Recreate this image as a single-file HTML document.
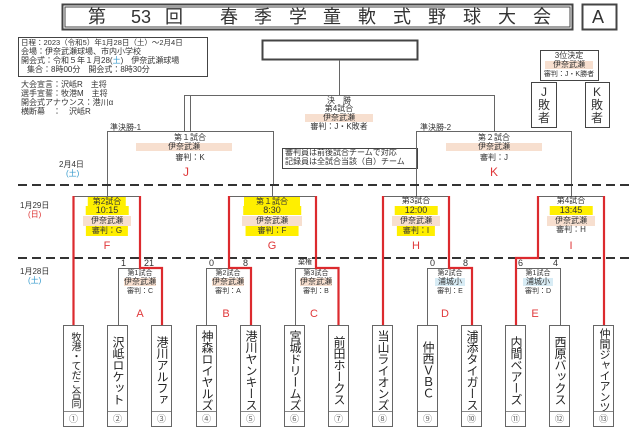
<!DOCTYPE html>
<html><head><meta charset="utf-8"><style>
body{margin:0;width:640px;height:436px;background:#fff;position:relative;overflow:hidden;font-family:"Liberation Sans","Noto Sans CJK JP",sans-serif;color:#333}
.t{position:absolute;white-space:nowrap;line-height:1}
.c{transform:translateX(-50%)}
.s{font-size:8px}
.team{position:absolute;top:325px;width:21px;height:102px;border:1px solid #666;box-sizing:border-box;background:#fff}
.team .n{position:absolute;top:2px;left:0;width:20px;height:84px;writing-mode:vertical-rl;text-orientation:upright;font-size:12px;line-height:20px;text-align:center;color:#222;letter-spacing:-0.5px}
.team .no{position:absolute;bottom:0;left:0;width:19px;height:14px;border-top:1px solid #888;font-size:9px;text-align:center;line-height:14px;color:#666}
.red{color:#e0383a}
.y{background:#ffef00}
.p{background:#f7dfcf}
.b{background:#d8ecf5}
</style></head><body>
<svg width="640" height="436" style="position:absolute;left:0;top:0">
<g fill="none" stroke="#444">
<rect x="62.5" y="4.5" width="510" height="25" stroke-width="2"/>
<rect x="65" y="7" width="505" height="20" stroke-width="1"/>
<rect x="582.5" y="4.5" width="34" height="25" stroke-width="2"/>
<rect x="18.5" y="37.5" width="189" height="39"/>
<rect x="262.5" y="40.5" width="155" height="19" stroke-width="2"/>
<rect x="540.5" y="50.5" width="58" height="30"/>
<rect x="531.5" y="82.5" width="25" height="45"/>
<rect x="585.5" y="82.5" width="24" height="45"/>
<rect x="282.5" y="148.5" width="135" height="20"/>
</g>
<g fill="none" stroke="#666" stroke-width="1">
<path d="M339.5 60V95.5M184.5 131V95.5H494.5V131"/>
<path d="M107.5 185V131.5H273.5V185M190.5 131V95"/>
<path d="M416.5 185V131.5H571.5V185"/>
<path d="M107.5 185V196M272.5 185V196M416.5 185V196M571.5 185V196"/>
<path d="M73 196.5H140M229 196.5H316M383 196.5H449M538 196.5H604"/>
<path d="M118.5 325V268.5H162M206.5 325V268.5H250M295.5 325V268.5H338M427.5 325V268.5H472M516 268.5H560.5V325"/>
</g>
<g stroke="#333" stroke-width="2" stroke-dasharray="9,5">
<path d="M18 185H630M18 258H630"/>
</g>
<g fill="none" stroke="#dc2a2e" stroke-width="2.2">
<path d="M73.5 196V325M140 196V268H162V325"/>
<path d="M229 196V268H251V325M316 196V268H338.5V325"/>
<path d="M383 196V325M449 196V268H472V325"/>
<path d="M538 196V258H516V325M604 196V325"/>
</g>
</svg>

<div class="t" style="left:88px;top:8px;font-size:18px;color:#333">第</div>
<div class="t" style="left:131px;top:8px;font-size:18px">53</div>
<div class="t" style="left:165px;top:8px;font-size:18px">回</div>
<div class="t" style="left:220px;top:8px;font-size:18px">春</div>
<div class="t" style="left:254px;top:8px;font-size:18px">季</div>
<div class="t" style="left:289px;top:8px;font-size:18px">学</div>
<div class="t" style="left:323px;top:8px;font-size:18px">童</div>
<div class="t" style="left:358px;top:8px;font-size:18px">軟</div>
<div class="t" style="left:393px;top:8px;font-size:18px">式</div>
<div class="t" style="left:428px;top:8px;font-size:18px">野</div>
<div class="t" style="left:463px;top:8px;font-size:18px">球</div>
<div class="t" style="left:498px;top:8px;font-size:18px">大</div>
<div class="t" style="left:533px;top:8px;font-size:18px">会</div>
<div class="t" style="left:592px;top:8px;font-size:18px">A</div>

<div class="t s" style="left:21px;top:39px;font-size:7.5px">日程：2023（令和5）年1月28日（土）～2月4日</div>
<div class="t s" style="left:21px;top:48px">会場：伊奈武瀬球場、市内小学校</div>
<div class="t s" style="left:21px;top:57px">開会式：令和５年１月28(<span style="color:#39c">土</span>)　伊奈武瀬球場</div>
<div class="t s" style="left:27px;top:66px">集合：8時00分　開会式：8時30分</div>
<div class="t s" style="left:21px;top:81px">大会宣言：沢岻R　主将</div>
<div class="t s" style="left:21px;top:90px">選手宣誓：牧港M　主将</div>
<div class="t s" style="left:21px;top:99px">開会式アナウンス：港川α</div>
<div class="t s" style="left:21px;top:108px">横断幕　：　沢岻R</div>

<div class="t s c" style="left:569px;top:52px">3位決定</div>
<div class="t s c p" style="left:569px;top:61px;padding:0 8px">伊奈武瀬</div>
<div class="t c" style="left:569px;top:71px;font-size:7px">審判：J・K勝者</div>
<div class="t c" style="left:544px;top:86px;font-size:12px;width:14px;text-align:center;line-height:13px;white-space:normal">J<br>敗<br>者</div>
<div class="t c" style="left:597px;top:86px;font-size:12px;width:14px;text-align:center;line-height:13px;white-space:normal">K<br>敗<br>者</div>

<div class="t s c" style="left:339px;top:97px">決　勝</div>
<div class="t s c" style="left:339px;top:105px">第4試合</div>
<div class="t s c p" style="left:339px;top:114px;padding:0 18px">伊奈武瀬</div>
<div class="t s c" style="left:339px;top:123px">審判：J・K敗者</div>
<div class="t s" style="left:285px;top:149px">審判員は前後試合チームで対応</div>
<div class="t s" style="left:285px;top:158px">記録員は全試合当該（自）チーム</div>

<div class="t s" style="left:110px;top:124px">準決勝-1</div>
<div class="t s c" style="left:190px;top:134px">第１試合</div>
<div class="t s c p" style="left:184px;top:143px;padding:0 32px">伊奈武瀬</div>
<div class="t s c" style="left:190px;top:154px">審判：K</div>
<div class="t c red" style="left:186px;top:166px;font-size:12px">J</div>
<div class="t s" style="left:420px;top:124px">準決勝-2</div>
<div class="t s c" style="left:494px;top:134px">第２試合</div>
<div class="t s c p" style="left:494px;top:143px;padding:0 32px">伊奈武瀬</div>
<div class="t s c" style="left:494px;top:154px">審判：J</div>
<div class="t c red" style="left:494px;top:166px;font-size:12px">K</div>

<div class="t s" style="left:59px;top:161px">2月4日</div>
<div class="t s" style="left:66px;top:170px;color:#39c">(土)</div>
<div class="t s" style="left:20px;top:202px">1月29日</div>
<div class="t s" style="left:28px;top:211px;color:#d33">(日)</div>
<div class="t s" style="left:20px;top:268px">1月28日</div>
<div class="t s" style="left:28px;top:277px;color:#39c">(土)</div>

<!-- 1/29 games -->
<div class="t s c y" style="left:107px;top:197px;padding:1px 5px">第2試合</div>
<div class="t c y" style="left:107px;top:206px;font-size:9px;padding:0 10px">10:15</div>
<div class="t s c p" style="left:107px;top:216px;padding:1px 8px">伊奈武瀬</div>
<div class="t s c y" style="left:107px;top:226px;padding:1px 6px">審判：G</div>
<div class="t c red" style="left:107px;top:241px;font-size:11px">F</div>

<div class="t s c y" style="left:272px;top:197px;padding:1px 12px">第１試合</div>
<div class="t c y" style="left:272px;top:206px;font-size:9px;padding:0 20px">8:30</div>
<div class="t s c p" style="left:272px;top:216px;padding:1px 14px">伊奈武瀬</div>
<div class="t s c y" style="left:272px;top:226px;padding:1px 12px">審判：F</div>
<div class="t c red" style="left:272px;top:241px;font-size:11px">G</div>

<div class="t s c" style="left:416px;top:197px">第3試合</div>
<div class="t c y" style="left:416px;top:206px;font-size:9px;padding:0 10px">12:00</div>
<div class="t s c p" style="left:416px;top:216px;padding:1px 8px">伊奈武瀬</div>
<div class="t s c y" style="left:416px;top:226px;padding:1px 6px">審判：I</div>
<div class="t c red" style="left:416px;top:241px;font-size:11px">H</div>

<div class="t s c" style="left:571px;top:197px">第4試合</div>
<div class="t c y" style="left:571px;top:206px;font-size:9px;padding:0 10px">13:45</div>
<div class="t s c p" style="left:571px;top:216px;padding:1px 8px">伊奈武瀬</div>
<div class="t s c" style="left:571px;top:226px">審判：H</div>
<div class="t c red" style="left:571px;top:241px;font-size:11px">I</div>

<!-- 1/28 games -->
<div class="t s" style="left:121px;top:259px;font-size:9px">1</div>
<div class="t s" style="left:144px;top:259px;font-size:9px">21</div>
<div class="t s c" style="left:140px;top:270px;font-size:7px">第1試合</div>
<div class="t s c p" style="left:140px;top:278px">伊奈武瀬</div>
<div class="t c" style="left:140px;top:288px;font-size:7px">審判：C</div>
<div class="t c red" style="left:140px;top:309px;font-size:11px">A</div>

<div class="t s" style="left:209px;top:259px;font-size:9px">0</div>
<div class="t s" style="left:243px;top:259px;font-size:9px">8</div>
<div class="t s c" style="left:228px;top:270px;font-size:7px">第2試合</div>
<div class="t s c p" style="left:228px;top:278px">伊奈武瀬</div>
<div class="t c" style="left:228px;top:288px;font-size:7px">審判：A</div>
<div class="t c red" style="left:226px;top:309px;font-size:11px">B</div>

<div class="t s" style="left:298px;top:259px;font-size:7px">棄権</div>
<div class="t s c" style="left:316px;top:270px;font-size:7px">第3試合</div>
<div class="t s c p" style="left:316px;top:278px">伊奈武瀬</div>
<div class="t c" style="left:316px;top:288px;font-size:7px">審判：B</div>
<div class="t c red" style="left:314px;top:309px;font-size:11px">C</div>

<div class="t s" style="left:430px;top:259px;font-size:9px">0</div>
<div class="t s" style="left:463px;top:259px;font-size:9px">8</div>
<div class="t s c" style="left:450px;top:270px;font-size:7px">第2試合</div>
<div class="t s c b" style="left:450px;top:278px;padding:0 3px">浦城小</div>
<div class="t c" style="left:450px;top:288px;font-size:7px">審判：E</div>
<div class="t c red" style="left:445px;top:309px;font-size:11px">D</div>

<div class="t s" style="left:518px;top:259px;font-size:9px">6</div>
<div class="t s" style="left:553px;top:259px;font-size:9px">4</div>
<div class="t s c" style="left:538px;top:270px;font-size:7px">第1試合</div>
<div class="t s c b" style="left:538px;top:278px;padding:0 3px">浦城小</div>
<div class="t c" style="left:538px;top:288px;font-size:7px">審判：D</div>
<div class="t c red" style="left:535px;top:309px;font-size:11px">E</div>

<!-- teams -->
<div class="team" style="left:63px"><div class="n" style="font-size:10px;line-height:20px">牧港・てだこ合同</div><div class="no">①</div></div>
<div class="team" style="left:107px"><div class="n">沢岻ロケット</div><div class="no">②</div></div>
<div class="team" style="left:151px"><div class="n">港川アルファ</div><div class="no">③</div></div>
<div class="team" style="left:196px"><div class="n">神森ロイヤルズ</div><div class="no">④</div></div>
<div class="team" style="left:240px"><div class="n">港川ヤンキース</div><div class="no">⑤</div></div>
<div class="team" style="left:284px"><div class="n">宮城ドリームズ</div><div class="no">⑥</div></div>
<div class="team" style="left:328px"><div class="n">前田ホークス</div><div class="no">⑦</div></div>
<div class="team" style="left:372px"><div class="n">当山ライオンズ</div><div class="no">⑧</div></div>
<div class="team" style="left:417px"><div class="n">仲西ＶＢＣ</div><div class="no">⑨</div></div>
<div class="team" style="left:461px"><div class="n">浦添タイガース</div><div class="no">⑩</div></div>
<div class="team" style="left:505px"><div class="n">内間ベアーズ</div><div class="no">⑪</div></div>
<div class="team" style="left:549px"><div class="n">西原バックス</div><div class="no">⑫</div></div>
<div class="team" style="left:593px"><div class="n" style="font-size:11px">仲間ジャイアンツ</div><div class="no">⑬</div></div>
</body></html>
